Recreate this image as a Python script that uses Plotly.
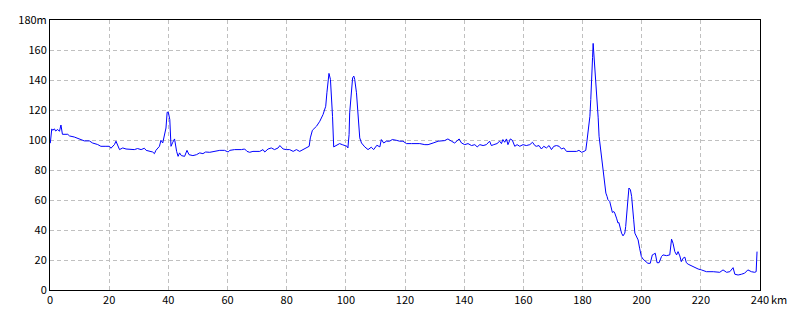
import plotly.graph_objects as go

dist_km = [
    0.0, 0.1, 0.6, 0.9, 1.5, 1.9, 2.6, 3.2, 3.7, 4.2, 6.0, 6.6, 8.2, 9.4, 10.5, 11.6, 13.3, 14.4,
    16.1, 17.2, 18.9, 20.1, 20.6, 21.8, 22.3, 22.9, 23.5, 24.6, 25.7, 28.5, 29.6, 30.8, 31.9,
    32.5, 33.6, 34.7, 35.3, 35.8, 37.0, 37.5, 38.1, 38.7, 39.2, 39.6, 40.0, 40.5, 40.9, 41.5,
    42.1, 42.8, 43.3, 43.8, 44.4, 45.5, 46.3, 47.0, 48.3, 49.5, 50.6, 51.7, 52.6, 54.0, 55.7,
    57.4, 59.0, 60.2, 60.8, 62.4, 64.7, 65.8, 66.6, 67.5, 68.6, 70.9, 72.0, 72.6, 73.7, 74.8,
    75.9, 77.1, 77.7, 78.8, 79.9, 81.0, 82.2, 83.3, 84.4, 85.5, 86.7, 87.6, 88.0, 88.7, 90.1,
    91.2, 92.3, 93.2, 93.6, 94.1, 94.3, 94.8, 95.1, 95.5, 95.9, 96.6, 97.9, 98.8, 99.6, 100.4,
    100.7, 101.1, 101.3, 101.9, 102.3, 102.7, 103.0, 103.6, 104.1, 104.7, 105.3, 106.4, 107.5,
    108.6, 109.4, 110.5, 111.5, 112.0, 112.8, 113.7, 114.8, 115.7, 117.1, 118.2, 119.3, 120.5,
    122.2, 123.9, 125.0, 126.7, 127.8, 129.5, 131.2, 133.4, 134.5, 135.7, 136.8, 138.3, 139.1,
    140.2, 141.3, 142.5, 143.6, 144.4, 145.3, 146.4, 147.5, 148.6, 149.2, 150.0, 151.1, 152.0,
    152.6, 153.1, 153.7, 154.3, 154.8, 155.6, 156.3, 157.1, 157.9, 158.8, 159.9, 161.0, 162.2,
    163.1, 163.9, 164.4, 165.3, 166.1, 166.9, 167.8, 168.7, 169.5, 170.3, 171.2, 172.1, 172.9,
    173.7, 174.6, 175.8, 178.0, 178.8, 179.7, 180.5, 181.1, 181.5, 181.9, 182.5, 182.8, 183.2,
    183.4, 183.6, 183.8, 184.1, 184.5, 184.9, 185.3, 185.6, 186.1, 186.4, 186.8, 187.2, 187.5,
    187.9, 188.3, 188.6, 189.2, 189.8, 190.1, 190.6, 190.9, 191.5, 192.0, 192.3, 192.6, 193.2,
    193.7, 194.3, 194.6, 195.1, 195.4, 195.7, 196.2, 196.6, 196.9, 197.3, 197.7, 198.2, 198.8,
    199.3, 199.9, 200.5, 201.6, 202.1, 202.9, 203.6, 204.1, 204.6, 205.2, 205.9, 206.7, 207.2,
    208.4, 209.5, 210.1, 210.6, 211.2, 211.8, 212.3, 212.9, 213.4, 214.0, 214.6, 215.1, 215.7,
    216.8, 217.9, 219.1, 220.2, 221.9, 224.2, 226.4, 227.5, 228.7, 229.8, 230.9, 231.5, 232.6,
    233.7, 234.8, 235.9, 237.1, 238.2, 238.7, 239.0,
]

elev_m = [
    98.0, 98.0, 107.4, 106.5, 107.4, 106.0, 107.0, 105.8, 110.0, 103.8, 103.8, 102.7, 102.0,
    101.0, 100.3, 99.4, 99.4, 98.0, 97.0, 95.8, 95.8, 95.8, 94.5, 97.0, 99.2, 95.8, 93.6, 94.7,
    94.0, 93.6, 94.3, 93.6, 94.5, 93.1, 92.4, 92.0, 90.9, 93.1, 95.8, 99.8, 98.0, 103.6, 108.0,
    118.5, 118.5, 113.6, 95.8, 98.5, 100.7, 92.4, 89.1, 91.4, 89.6, 89.1, 93.1, 90.2, 89.6,
    90.2, 91.4, 90.9, 92.0, 91.8, 92.4, 93.1, 93.1, 92.0, 93.1, 93.6, 93.6, 94.0, 92.4, 91.8,
    92.4, 92.4, 93.6, 92.0, 94.0, 94.7, 93.6, 94.7, 96.3, 94.0, 93.6, 93.6, 92.4, 93.6, 92.4,
    93.6, 94.7, 95.8, 101.4, 106.5, 109.2, 112.5, 117.0, 122.5, 131.5, 141.5, 144.4, 140.4,
    131.5, 115.8, 95.4, 96.3, 97.6, 96.9, 96.3, 95.8, 94.7, 103.6, 118.1, 135.9, 141.5, 142.6,
    140.4, 131.5, 120.3, 101.4, 98.0, 95.4, 93.6, 95.2, 93.6, 96.5, 95.4, 100.3, 98.0, 99.2,
    99.2, 100.3, 99.8, 99.2, 99.2, 97.6, 97.6, 97.6, 97.6, 96.9, 96.9, 98.0, 99.2, 99.6, 100.7,
    99.2, 98.0, 100.7, 98.0, 96.9, 97.6, 96.3, 96.9, 95.4, 96.9, 96.3, 96.9, 99.2, 96.3, 96.9,
    97.6, 99.2, 97.6, 100.3, 98.5, 100.7, 96.9, 100.7, 99.8, 95.8, 96.9, 95.8, 96.9, 96.3,
    96.9, 98.5, 96.3, 95.8, 96.3, 94.0, 95.8, 94.7, 96.3, 93.6, 95.8, 96.3, 95.8, 94.0, 94.7,
    92.4, 92.4, 92.4, 93.1, 91.8, 92.4, 93.1, 99.2, 104.7, 115.8, 127.0, 140.4, 154.9, 164.4,
    159.3, 151.5, 140.4, 127.0, 114.8, 102.5, 93.6, 86.9, 80.2, 75.7, 69.1, 64.6, 62.4, 60.2,
    59.0, 54.6, 51.7, 52.3, 51.3, 47.9, 44.6, 45.0, 42.3, 37.9, 36.1, 37.9, 42.3, 51.3, 61.3,
    68.0, 66.8, 62.4, 53.5, 46.8, 37.9, 35.6, 33.4, 27.9, 22.3, 20.5, 18.9, 17.8, 17.8, 23.4,
    23.9, 24.5, 18.2, 18.2, 22.3, 23.4, 22.9, 23.4, 33.9, 31.2, 25.6, 23.4, 25.6, 22.7, 18.9,
    21.2, 21.9, 18.2, 17.2, 16.0, 15.2, 14.0, 13.4, 12.2, 12.2, 11.8, 13.4, 11.8, 12.2, 14.9,
    10.5, 10.0, 10.5, 11.2, 13.4, 12.2, 11.8, 12.2, 25.6,
]

x_tick_vals = [0, 20, 40, 60, 80, 100, 120, 140, 160, 180, 200, 220, 240]
x_tick_text = ["0", "20", "40", "60", "80", "100", "120", "140", "160", "180", "200", "220", "240"]
y_tick_vals = [0, 20, 40, 60, 80, 100, 120, 140, 160, 180]
y_tick_text = ["0", "20", "40", "60", "80", "100", "120", "140", "160", "180m"]

FONT = "Noto Sans CJK JP"

fig = go.Figure()
fig.add_trace(go.Scatter(
    x=dist_km, y=elev_m, mode="lines",
    line=dict(color="#0000FF", width=1),
    hoverinfo="skip", showlegend=False,
))

axis_common = dict(
    showline=True, linecolor="black", linewidth=1, mirror=True,
    showgrid=True, gridcolor="#c0c0c0", griddash="4px,3px", gridwidth=1,
    zeroline=False, ticks="", tickfont=dict(family=FONT, size=11, color="black"),
    tickmode="array",
)

fig.update_xaxes(range=[0, 240], tickvals=x_tick_vals, ticktext=x_tick_text, **axis_common)
fig.update_yaxes(range=[0, 180], tickvals=y_tick_vals, ticktext=y_tick_text, **axis_common)

fig.add_annotation(
    text="km", xref="paper", yref="paper", x=1, y=0,
    xanchor="left", yanchor="middle", xshift=9, yshift=-9, showarrow=False,
    font=dict(family=FONT, size=11, color="black"),
)

fig.update_layout(
    width=800, height=320,
    margin=dict(l=50, r=40, t=20, b=30),
    paper_bgcolor="white", plot_bgcolor="white",
)

fig.write_html("out.html")
